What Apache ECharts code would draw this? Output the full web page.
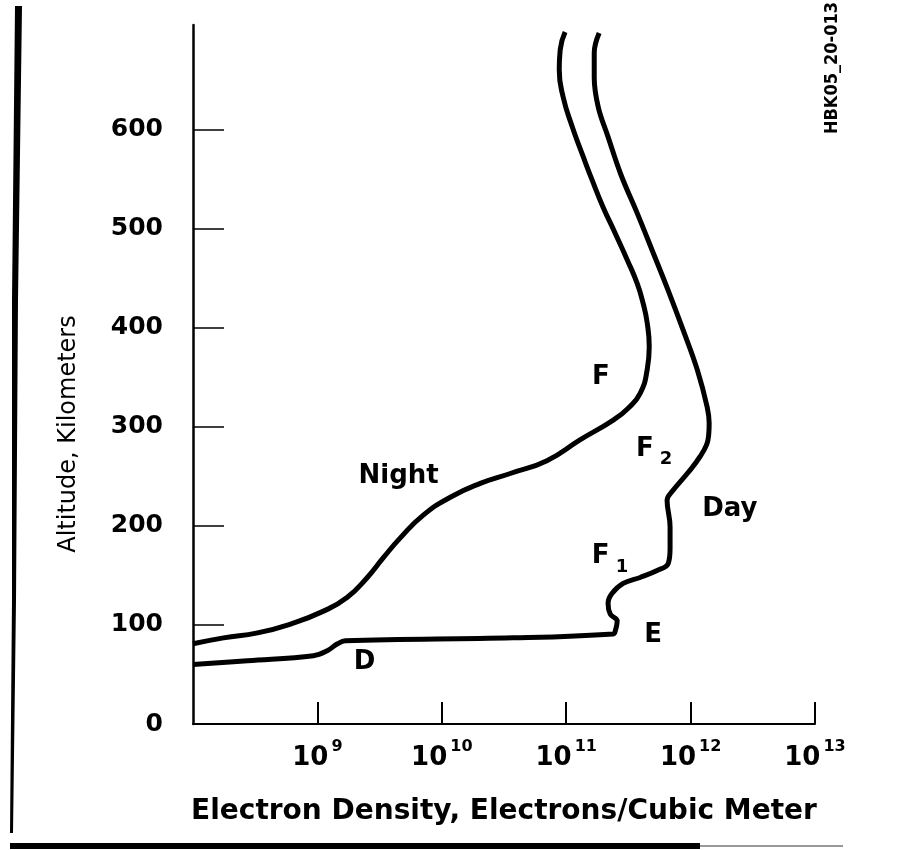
<!DOCTYPE html>
<html>
<head>
<meta charset="utf-8">
<title>Electron Density vs Altitude</title>
<script src="https://cdn.jsdelivr.net/npm/echarts@6.0.0/dist/echarts.min.js"></script>
<style>
  html, body { margin: 0; padding: 0; background: #fff; }
  #chart { width: 902px; height: 850px; }
</style>
</head>
<body>
<div id="chart"></div>
<script>
// electron density (electrons / m^3) vs altitude (km)
const nightDensity = [1.0e8, 1.76e8, 3.3e8, 6.1e8, 1.12e9, 1.74e9, 2.52e9, 3.39e9, 4.64e9, 7.1e9,
  1.17e10, 2.04e10, 3.55e10, 7.0e10, 1.29e11, 2.39e11, 3.15e11, 3.93e11, 4.48e11, 4.65e11,
  4.48e11, 4.15e11, 3.72e11, 3.09e11, 2.47e11, 1.98e11, 1.62e11, 1.37e11, 1.12e11, 9.46e10,
  8.79e10, 8.95e10, 9.8e10];
const nightAltitude = [81, 87, 92, 101, 114, 128, 148, 168, 188, 211,
  229, 243, 253, 266, 287, 307, 319, 334, 358, 381,
  405, 425, 445, 469, 496, 522, 549, 573, 603, 633,
  661, 681, 699];

const dayDensity = [1.0e8, 2.74e8, 9.3e8, 1.2e9, 1.45e9, 1.68e9, 3.75e10, 2.39e11, 2.48e11, 2.57e11,
  2.26e11, 2.17e11, 2.34e11, 2.87e11, 3.93e11, 5.38e11, 6.6e11, 6.84e11, 6.84e11, 6.47e11,
  7.23e11, 9.4e11, 1.19e12, 1.38e12, 1.41e12, 1.36e12, 1.13e12, 8.7e11, 6.6e11, 5.0e11,
  3.72e11, 2.75e11, 2.17e11, 1.81e11, 1.68e11, 1.68e11, 1.84e11];
const dayAltitude = [60, 64, 69, 74, 81, 84, 87, 91, 94, 104,
  111, 122, 132, 142, 148, 155, 162, 178, 199, 226,
  236, 253, 270, 287, 304, 320, 358, 398, 438, 476,
  516, 555, 593, 623, 653, 678, 698];

// tick labels: x axis is log10 of density
const xTickExponents = [9, 10, 11, 12, 13];
const yTickValues = [100, 200, 300, 400, 500, 600];
const yLabelValues = [0, 100, 200, 300, 400, 500, 600];

// layer names written on the plot
const regionLabels = ['Night', 'F', '{f|F}{sub|2}', 'Day', '{f|F}{sub|1}', 'E', 'D'];
const regionDensity = [4.5e9, 1.9e11, 5.1e11, 2.07e12, 2.25e11, 5.0e11, 2.39e9];
const regionAltitude = [250, 350, 278, 217, 169, 90, 62];

const FONT = '"DejaVu Sans", sans-serif';

const toPoints = (dens, alt) => dens.map((d, i) => [Math.log10(d), alt[i]]);

const chart = echarts.init(document.getElementById('chart'), null, { renderer: 'canvas' });

const curveStyle = { color: '#000', width: 5 };

const option = {
  animation: false,
  backgroundColor: '#fff',
  grid: { left: 193, right: 87, top: 25, bottom: 126 },
  xAxis: {
    type: 'value',
    min: 8,
    max: 13,
    interval: 1,
    name: 'Electron Density, Electrons/Cubic Meter',
    nameLocation: 'middle',
    nameGap: 74,
    nameTextStyle: { color: '#000', fontFamily: FONT, fontWeight: 'bold', fontSize: 28 },
    axisLine: { show: true, onZero: false, lineStyle: { color: '#000', width: 2 } },
    axisTick: {
      show: true, inside: true, length: 22, customValues: xTickExponents,
      lineStyle: { color: '#000', width: 2 }
    },
    axisLabel: {
      customValues: xTickExponents,
      margin: 15,
      color: '#000',
      formatter: v => (v === 8 ? '' : '{b|10}{s|' + v + '}'),
      rich: {
        b: { fontFamily: FONT, fontWeight: 'bold', fontSize: 26, lineHeight: 26, verticalAlign: 'top', padding: [6, 0, 0, 0], color: '#000' },
        s: { fontFamily: FONT, fontWeight: 'bold', fontSize: 16, lineHeight: 16, verticalAlign: 'top', padding: [0, 0, 0, 3], color: '#000' }
      }
    },
    splitLine: { show: false }
  },
  yAxis: {
    type: 'value',
    min: 0,
    max: 706,
    interval: 100,
    name: 'Altitude, Kilometers',
    nameLocation: 'middle',
    nameGap: 112,
    nameTextStyle: { color: '#000', fontFamily: FONT, fontSize: 24, padding: [0, 119, 0, 0] },
    axisLine: { show: true, onZero: false, lineStyle: { color: '#000', width: 2.5 } },
    axisTick: {
      show: true, inside: true, length: 31, customValues: yTickValues,
      lineStyle: { color: '#000', width: 1.5 }
    },
    axisLabel: {
      customValues: yLabelValues,
      margin: 30,
      color: '#000',
      fontFamily: FONT,
      fontWeight: 'bold',
      fontSize: 25,
      formatter: v => (v > 600 ? '' : String(v))
    },
    splitLine: { show: false }
  },
  series: [
    {
      name: 'Night',
      type: 'line',
      data: toPoints(nightDensity, nightAltitude),
      smooth: 0.5,
      symbol: 'none',
      lineStyle: curveStyle
    },
    {
      name: 'Day',
      type: 'line',
      data: toPoints(dayDensity, dayAltitude),
      smooth: 0.4,
      symbol: 'none',
      lineStyle: curveStyle
    },
    {
      name: 'labels',
      type: 'scatter',
      silent: true,
      symbolSize: 1,
      itemStyle: { color: 'rgba(0,0,0,0)', opacity: 1 },
      data: regionLabels.map((t, i) => ({
        value: [Math.log10(regionDensity[i]), regionAltitude[i]],
        label: { formatter: t }
      })),
      label: {
        show: true,
        position: 'inside',
        color: '#000',
        fontFamily: FONT,
        fontWeight: 'bold',
        fontSize: 26,
        rich: {
          f: { fontFamily: FONT, fontWeight: 'bold', fontSize: 26, lineHeight: 26, verticalAlign: 'top', color: '#000' },
          sub: { fontFamily: FONT, fontWeight: 'bold', fontSize: 18, lineHeight: 18, verticalAlign: 'top', padding: [15, 0, 0, 6], color: '#000' }
        }
      }
    }
  ],
  graphic: [
    {
      type: 'text',
      x: 832,
      y: 68,
      rotation: Math.PI / 2,
      style: {
        text: 'HBK05_20-013',
        fontFamily: '"Liberation Sans Narrow", "DejaVu Sans Condensed", sans-serif',
        fontWeight: 'bold',
        fontSize: 18,
        fill: '#000',
        align: 'center',
        verticalAlign: 'middle',
        textAlign: 'center',
        textVerticalAlign: 'middle'
      }
    },
    {
      // left page edge from the scan
      type: 'polygon',
      shape: { points: [[15, 6], [22, 6], [18, 300], [16, 600], [13, 833], [10, 833], [12, 600], [12, 300]] },
      style: { fill: '#000' }
    },
    {
      type: 'rect',
      shape: { x: 10, y: 843, width: 690, height: 6 },
      style: { fill: '#000' }
    },
    {
      type: 'rect',
      shape: { x: 700, y: 845, width: 143, height: 2 },
      style: { fill: '#999' }
    }
  ]
};

chart.setOption(option);
</script>
</body>
</html>
